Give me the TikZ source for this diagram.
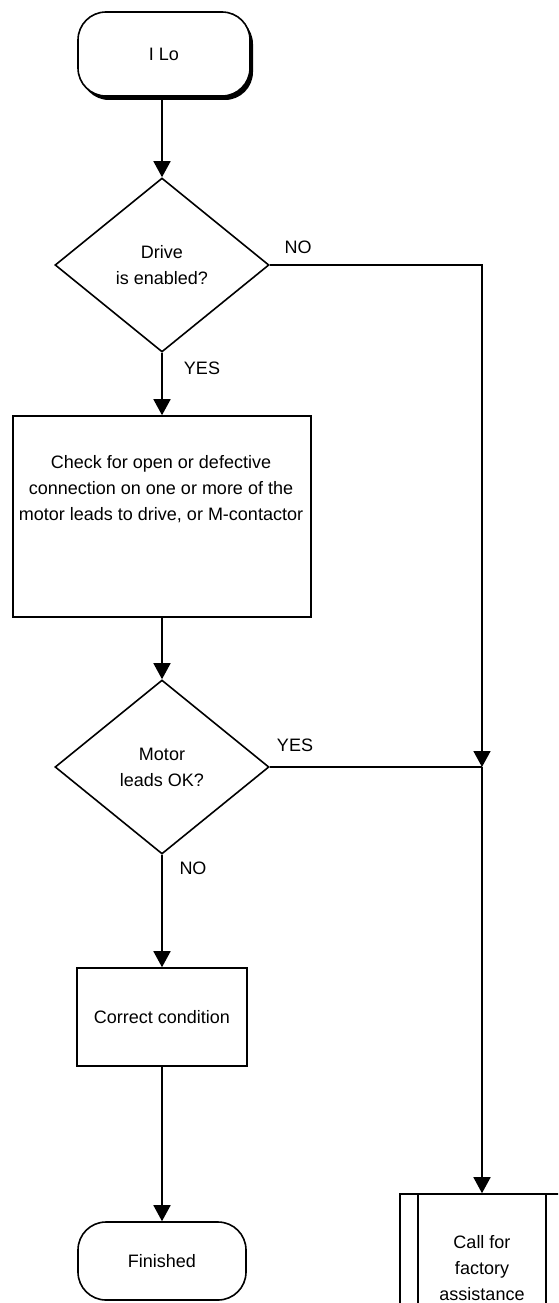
\documentclass[tikz,border=0pt]{standalone}
\usepackage{fontspec}
\setmainfont{Liberation Sans}
\usepackage{tikz}
\usetikzlibrary{arrows.meta,shapes.geometric,shadows}

\begin{document}
\begin{tikzpicture}[x=1pt,y=-1pt,
	font=\fontsize{18}{26}\selectfont,
	every node/.style={inner sep=0pt},
	flow/.style={line width=1.6pt},
	arr/.style={flow,-{Triangle[width=17pt,length=16pt]}},
	term/.style={draw,line width=1.6pt,rounded corners=28pt,minimum width=172pt,minimum height=84pt,align=center},
	decision/.style={draw,line width=1.6pt,diamond,minimum width=214pt,minimum height=174pt,align=center},
	procbox/.style={draw,line width=1.6pt,rectangle,align=center}]
	\useasboundingbox (0,0) rectangle (558,1303);
	\clip (0,0) rectangle (558,1303);

	% main column
	\node[term,drop shadow={shadow xshift=3pt,shadow yshift=-4pt,opacity=1,fill=black},fill=white] (start) at (164,54) {I Lo};
	\node[decision] (enabled) at (162,265) {Drive\\is enabled?};
	\node[procbox,minimum width=298pt,minimum height=201pt] (check) at (162,516.5) {};
	\node[align=center] (checktxt) at (161,489) {Check for open or defective\\connection on one or more of the\\motor leads to drive, or M-contactor};
	\node[decision] (leads) at (162,767) {Motor\\leads OK?};
	\node[procbox,minimum width=170pt,minimum height=98pt] (correct) at (162,1017) {Correct condition};
	\node[term,minimum width=168pt,minimum height=78pt] (finished) at (162,1261) {Finished};

	% right branch
	\node[procbox,minimum width=164pt,minimum height=148pt] (factory) at (482,1268) {Call for\\factory\\assistance};
	\draw[flow] ([xshift=19pt]factory.north west) -- ([xshift=19pt]factory.south west);
	\draw[flow] ([xshift=-19pt]factory.north east) -- ([xshift=-19pt]factory.south east);
	\coordinate (join) at (factory.north |- leads.east);

	\draw[arr] (start.south -| enabled.north) -- (enabled.north);
	\draw[arr] (enabled) -- (check);
	\draw[arr] (check) -- (leads);
	\draw[arr] (leads) -- (correct);
	\draw[arr] (correct) -- (finished);
	\draw[arr] (enabled.east) -| (join);
	\draw[flow] (leads.east) -- (join);
	\draw[arr] (join) -- (factory.north);

	\foreach \txt/\nm/\x/\y in {NO/noright/298/247, YES/yesdown/202/368, YES/yesright/295/745, NO/nodown/193/868}
		\node (\nm) at (\x,\y) {\txt};
	%\draw[help lines,step=50] (0,0) grid (558,1303);
\end{tikzpicture}
\end{document}
